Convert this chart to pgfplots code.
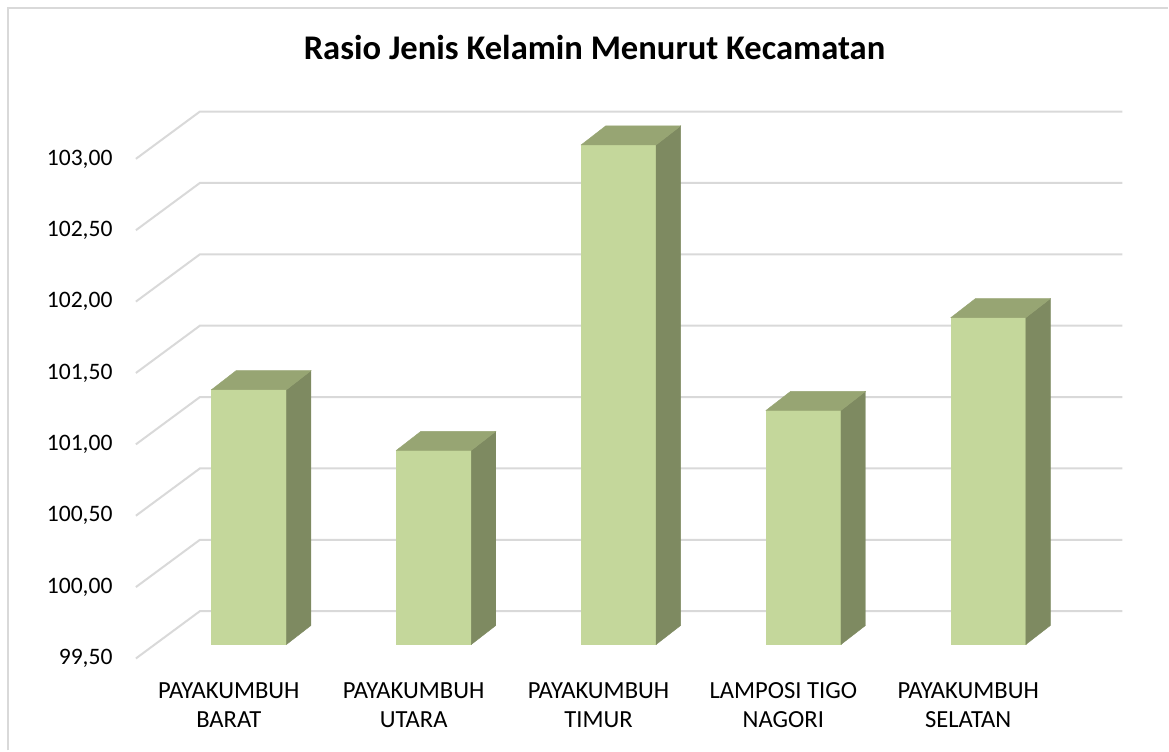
\documentclass[border=0pt]{standalone}
\usepackage{pgfplots}
\usepackage{pgfplotstable}
\pgfplotsset{compat=1.18}
\usepackage{fontspec}
\setmainfont{Carlito}
\definecolor{barfront}{HTML}{C4D79B}
\definecolor{barside}{HTML}{7E8A61}
\definecolor{bartop}{HTML}{97A573}
\definecolor{gridc}{HTML}{D9D9D9}

% left edge of each bar (pixel units) and sex ratio
\pgfplotstableread{
left  val
211.7 101.285
396.7 100.86
581.7 103.00
766.7 101.14
951.7 101.79
}\bars

\begin{document}
\begin{tikzpicture}
\begin{axis}[
  scale only axis,
  width=493.65pt, height=274.15pt,
  xmin=136, xmax=1123.3,
  ymin=-0.098, ymax=3.740,
  clip=false,
  axis line style={draw=none},
  tick style={draw=none},
  ytick={-0.098,0.402,0.902,1.402,1.902,2.402,2.902,3.402},
  yticklabels={{99,50},{100,00},{100,50},{101,00},{101,50},{102,00},{102,50},{103,00}},
  yticklabel style={anchor=east, inner sep=0pt, xshift=-11.5pt, font=\fontsize{11.8}{14}\selectfont},
  xtick={229,414,599,784,969},
  xticklabels={{PAYAKUMBUH\\BARAT},{PAYAKUMBUH\\UTARA},{PAYAKUMBUH\\TIMUR},{LAMPOSI TIGO\\NAGORI},{PAYAKUMBUH\\SELATAN}},
  xticklabel style={anchor=north, inner sep=0pt, yshift=-12pt, align=center, font=\fontsize{12.3}{14.5}\selectfont},
]
% bounding region of the whole chart
\path (axis cs:0,-0.742) rectangle (axis cs:1169,4.515);
\draw[gridc, line width=1pt] (axis cs:8,-0.742) -- (axis cs:8,4.459) -- (axis cs:1169,4.459);
% title
\node[anchor=base, font=\fontsize{17.3}{20}\selectfont\bfseries] at (axis cs:595,4.095) {Rasio Jenis Kelamin Menurut Kecamatan};
% gridlines (side wall and back wall)
\addplot[gridc, line width=1pt] coordinates {(136,-0.098) (200,0.233) (1123.3,0.233)};
\addplot[gridc, line width=1pt] coordinates {(136,0.402) (200,0.733) (1123.3,0.733)};
\addplot[gridc, line width=1pt] coordinates {(136,0.902) (200,1.233) (1123.3,1.233)};
\addplot[gridc, line width=1pt] coordinates {(136,1.402) (200,1.733) (1123.3,1.733)};
\addplot[gridc, line width=1pt] coordinates {(136,1.902) (200,2.233) (1123.3,2.233)};
\addplot[gridc, line width=1pt] coordinates {(136,2.402) (200,2.733) (1123.3,2.733)};
\addplot[gridc, line width=1pt] coordinates {(136,2.902) (200,3.233) (1123.3,3.233)};
\addplot[gridc, line width=1pt] coordinates {(136,3.402) (200,3.733) (1123.3,3.733)};
% 3D bars
\pgfplotsinvokeforeach{0,...,4}{
  \pgfplotstablegetelem{#1}{left}\of\bars \pgfmathsetmacro\xa{\pgfplotsretval}
  \pgfplotstablegetelem{#1}{val}\of\bars \pgfmathsetmacro\h{\pgfplotsretval-99.5}
  \pgfmathsetmacro\xb{\xa+75}
  \pgfmathsetmacro\xc{\xa+24.5}
  \pgfmathsetmacro\xd{\xa+99.5}
  \pgfmathsetmacro\hb{\h+0.133}
  \edef\temp{%
    \noexpand\addplot[draw=barfront, line width=0.2pt, fill=barfront] coordinates {(\xa,0) (\xb,0) (\xb,\h) (\xa,\h)} --cycle;
    \noexpand\addplot[draw=barside, line width=0.2pt, fill=barside] coordinates {(\xb,0) (\xd,0.133) (\xd,\hb) (\xb,\h)} --cycle;
    \noexpand\addplot[draw=bartop, line width=0.2pt, fill=bartop] coordinates {(\xa,\h) (\xc,\hb) (\xd,\hb) (\xb,\h)} --cycle;
  }%
  \temp
}
\end{axis}
\end{tikzpicture}
\end{document}
